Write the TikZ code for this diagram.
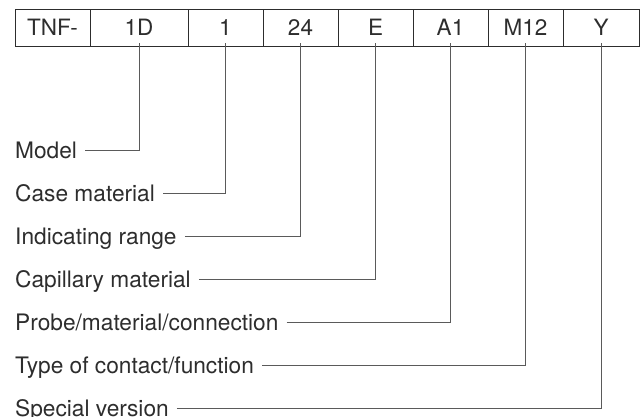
\documentclass[tikz,border=0pt]{standalone}
\usepackage{fontspec}
\setmainfont{TeX Gyre Heros}
\usepackage{tikz}
\usetikzlibrary{positioning, calc}
\definecolor{ink}{RGB}{45, 45, 45}
\definecolor{wire}{RGB}{90, 90, 90}
\tikzset{
    codecell/.style={rectangle, draw=ink, line width=0.9pt, anchor=north west, minimum width=75pt, minimum height=37pt, inner sep=0pt, outer sep=0pt, text=ink, font=\fontsize{22.5}{26}\selectfont},
    codelabel/.style={anchor=west, inner sep=0pt, text height=16pt, text depth=0pt, text=ink, font=\fontsize{22.7}{26}\selectfont},
    leader/.style={draw=wire, line width=1pt}
}
\begin{document}
\begin{tikzpicture}[x=1pt, y=-1pt]
        \useasboundingbox (0, 0) rectangle (640, 416);

        % Order code boxes
        \node[codecell] (tnf) at (15, 9) {TNF-};
        \node[codecell, minimum width=98pt] (model) at (90, 9) {1D};
        \node[codecell] (case) at (188, 9) {1};
        \node[codecell] (range) at (263, 9) {24};
        \node[codecell] (capil) at (338, 9) {E};
        \node[codecell] (probe) at (413, 9) {A1};
        \node[codecell] (contact) at (488, 9) {M12};
        \node[codecell, minimum width=76pt] (special) at (563, 9) {Y};

        % Descriptions
        \node[codelabel] (lmodel) at (15, 150) {Model};
        \node[codelabel] (lcase) at (15, 193) {Case material};
        \node[codelabel] (lrange) at (15, 236) {Indicating range};
        \node[codelabel] (lcapil) at (15, 279) {Capillary material};
        \node[codelabel] (lprobe) at (15, 322) {Probe/material/connection};
        \node[codelabel] (lcontact) at (15, 365) {Type of contact/function};
        \node[codelabel] (lspecial) at (15, 408) {Special version};

        % Leader lines from description to box
        \draw[leader] ([xshift=8pt]lmodel.east) -| ([yshift=3pt]model.south);
        \draw[leader] ([xshift=8pt]lcase.east) -| ([yshift=3pt]case.south);
        \draw[leader] ([xshift=8pt]lrange.east) -| ([yshift=3pt]range.south);
        \draw[leader] ([xshift=8pt]lcapil.east) -| ([yshift=3pt]capil.south);
        \draw[leader] ([xshift=8pt]lprobe.east) -| ([yshift=3pt]probe.south);
        \draw[leader] ([xshift=8pt]lcontact.east) -| ([yshift=3pt]contact.south);
        \draw[leader] ([xshift=8pt]lspecial.east) -| ([yshift=3pt]special.south);
    \end{tikzpicture}
\end{document}
